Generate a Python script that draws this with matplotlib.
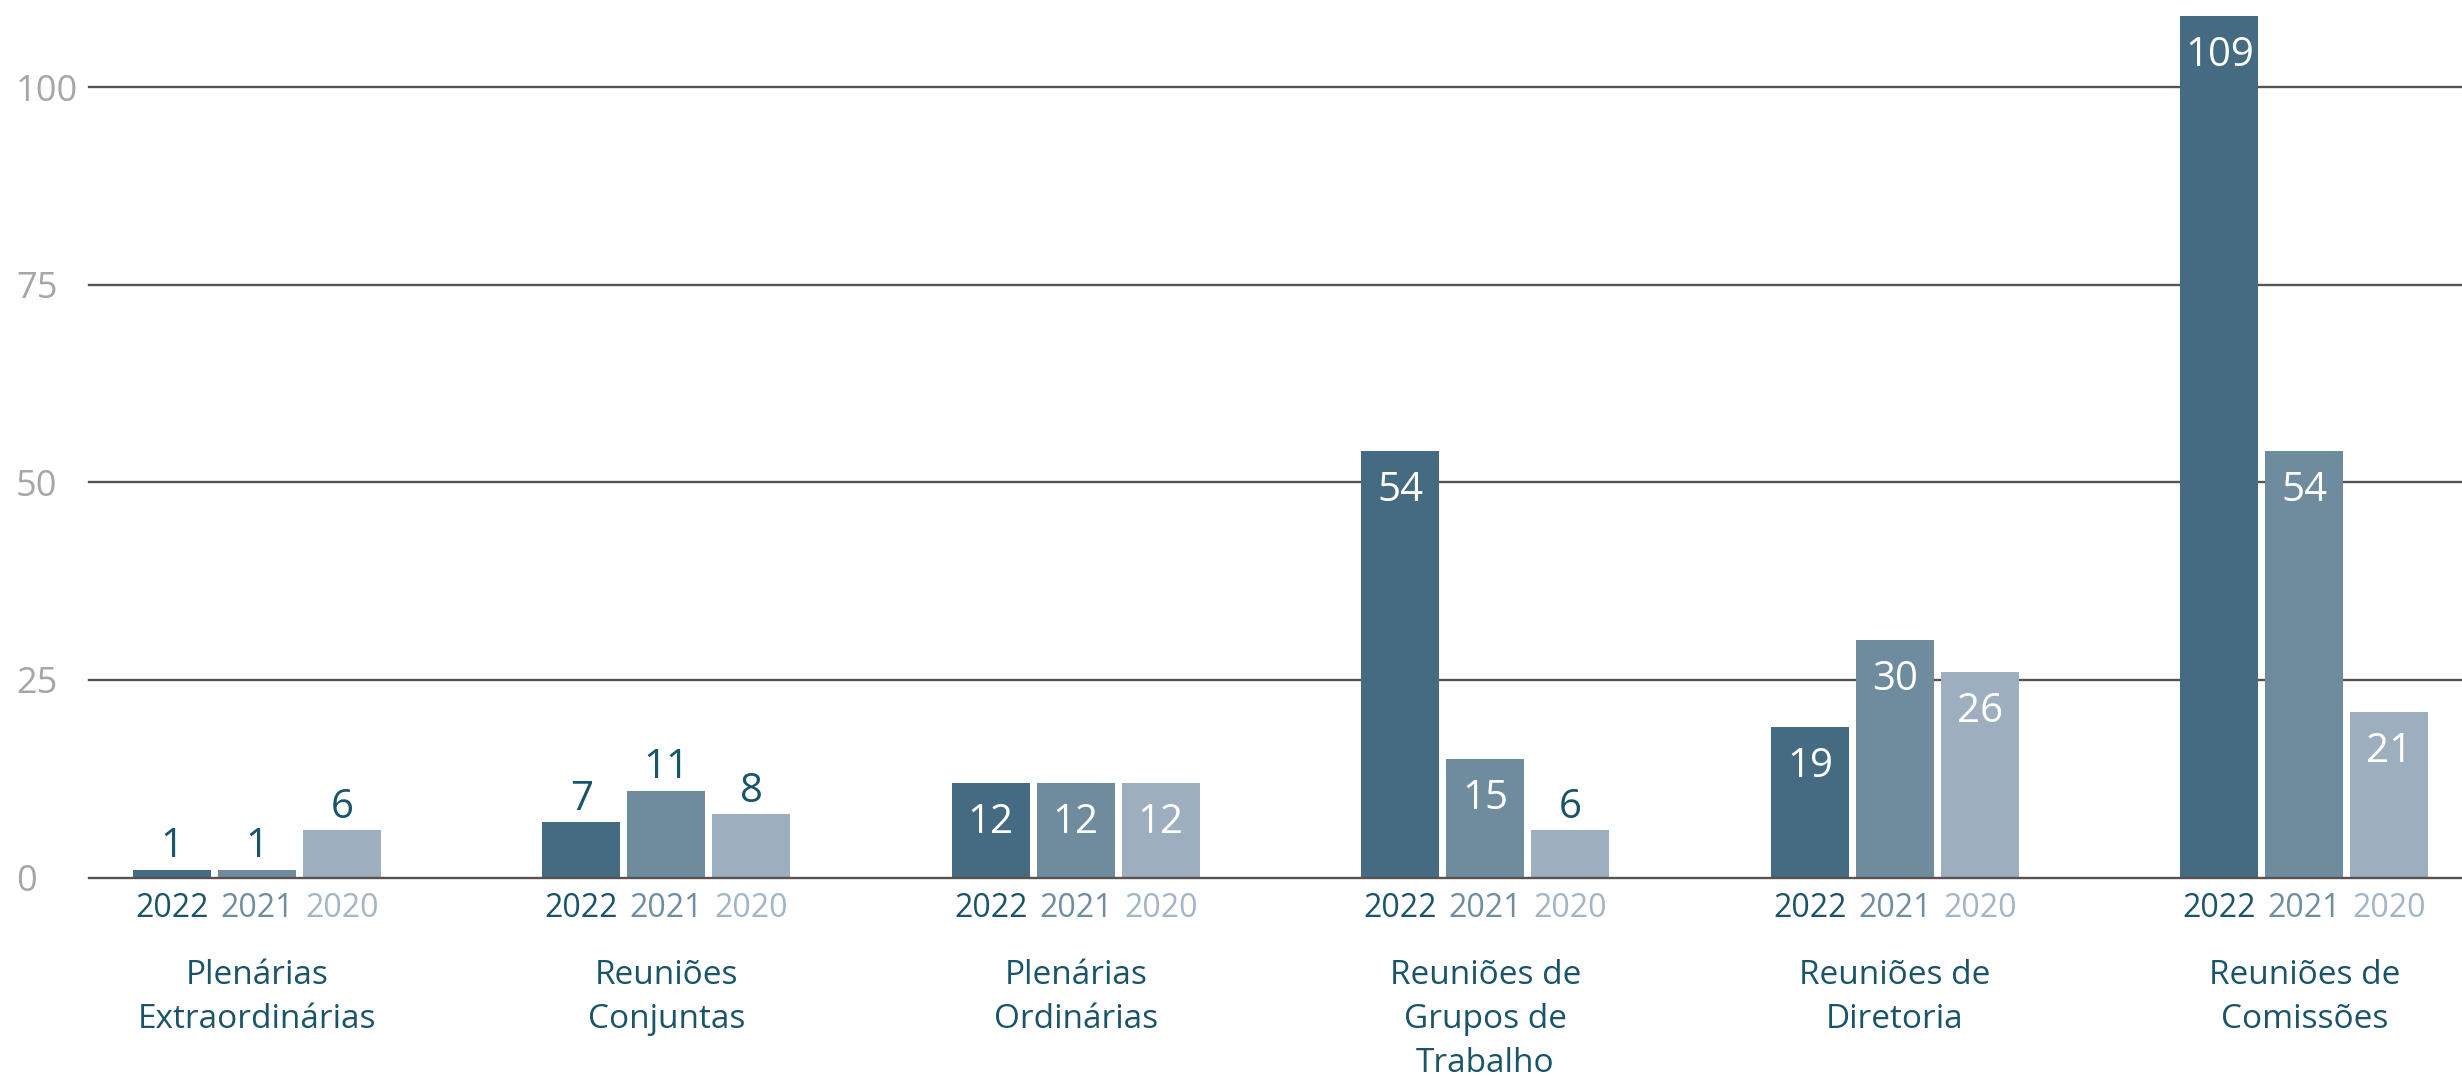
import matplotlib
matplotlib.use("Agg")
import matplotlib.pyplot as plt
import numpy as np

categories = ["Plenárias\nExtraordinárias", "Reuniões\nConjuntas", "Plenárias\nOrdinárias",
              "Reuniões de\nGrupos de\nTrabalho", "Reuniões de\nDiretoria", "Reuniões de\nComissões"]
years = ["2022", "2021", "2020"]
v2022 = [1, 7, 12, 54, 19, 109]
v2021 = [1, 11, 12, 15, 30, 54]
v2020 = [6, 8, 12, 6, 26, 21]
yticks = [0, 25, 50, 75, 100]

bar_colors = ["#446b81", "#6e8c9e", "#9dafbe"]
year_colors = ["#1b5468", "#6e8ea0", "#a3b5c4"]
dark_text = "#1a5468"
grid_color = "#5a524e"
tick_color = "#a6a6a6"

plt.rcParams['font.family'] = ['Open Sans', 'DejaVu Sans']

W, H = 2462, 1076
fig = plt.figure(figsize=(W / 100, H / 100), dpi=100)
ax = fig.add_axes([89 / W, (H - 877.5) / H, 1 - 89 / W, 877.5 / H])

ymax = 877.5 / 7.902
ax.set_ylim(0, ymax)
ax.set_xlim(-0.41, 5.385)

pitch = 85 / 409.5
width = 78 / 409.5
x = np.arange(len(categories))
series = [v2022, v2021, v2020]

for yv in yticks:
    ax.axhline(yv, color=grid_color, lw=1.7, zorder=4 if yv == 0 else 1, clip_on=False)

for i, vals in enumerate(series):
    xs = x + (i - 1) * pitch
    ax.bar(xs, vals, width=width, color=bar_colors[i], zorder=2)
    for xx, v in zip(xs, vals):
        if v >= 12:
            ax.annotate(str(v), (xx, v), xytext=(0, -36), textcoords='offset points',
                        ha='center', va='baseline', color='white', fontsize=29, zorder=3)
        else:
            ax.annotate(str(v), (xx, v), xytext=(0, 8.8), textcoords='offset points',
                        ha='center', va='baseline', color=dark_text, fontsize=29, zorder=3)
        # year label below axis
        ax.annotate(years[i], (xx, 0), xytext=(0, -39.5 * 0.72), textcoords='offset points',
                    ha='center', va='baseline', color=year_colors[i], fontsize=23,
                    annotation_clip=False)

for xc, cat in zip(x, categories):
    for j, line in enumerate(cat.split("\n")):
        ax.annotate(line, (xc, 0), xytext=(0, -(106.5 + 44 * j) * 0.72), textcoords='offset points',
                    ha='center', va='baseline', color=dark_text, fontsize=24,
                    annotation_clip=False)

ax.set_yticks(yticks)
ax.set_yticklabels([str(t) for t in yticks])
ax.tick_params(axis='y', length=0, pad=73 * 0.72, labelsize=26, labelcolor=tick_color)
for lbl in ax.get_yticklabels():
    lbl.set_horizontalalignment('left')
ax.set_xticks([])
for s in ax.spines.values():
    s.set_visible(False)

fig.savefig("out.png", dpi=100)
